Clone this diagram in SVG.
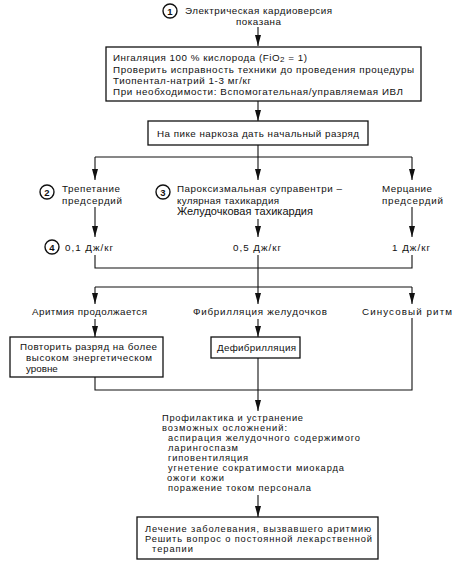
<svg xmlns="http://www.w3.org/2000/svg" width="459" height="564" viewBox="0 0 459 564">
<style>
text{font-family:"Liberation Sans",Arial,sans-serif;font-size:9.8px;fill:#111}
.s{font-size:9.3px}
.b{fill:#fff;stroke:#111;stroke-width:1.3}
.c{fill:#fff;stroke:#111;stroke-width:1.4}
.n{font-weight:bold;font-size:9.5px;text-anchor:middle}
.l{fill:none;stroke:#111;stroke-width:1.1}
.big{font-size:11px}
</style>
<defs>
<marker id="d" markerUnits="userSpaceOnUse" markerWidth="12" markerHeight="6" refX="11" refY="3" orient="auto" viewBox="0 0 12 6">
<path d="M0,0 L11,3 L0,6 Z" fill="#111"/>
</marker>
</defs>
<rect width="459" height="564" fill="#fff"/>
<g id="connectors">
<path class="l" d="M258,27 V46" marker-end="url(#d)"/>
<path class="l" d="M258,101 V121" marker-end="url(#d)"/>
<path class="l" d="M258,145 V157 M95,157 H412"/>
<path class="l" d="M95,157 V180" marker-end="url(#d)"/>
<path class="l" d="M258,157 V180" marker-end="url(#d)"/>
<path class="l" d="M412,157 V180" marker-end="url(#d)"/>
<path class="l" d="M95,207 V237" marker-end="url(#d)"/>
<path class="l" d="M258,219 V237" marker-end="url(#d)"/>
<path class="l" d="M412,207 V237" marker-end="url(#d)"/>
<path class="l" d="M95,255 V268 H412 V255 M258,255 V287 M95,287 H412"/>
<path class="l" d="M95,287 V304" marker-end="url(#d)"/>
<path class="l" d="M258,287 V304" marker-end="url(#d)"/>
<path class="l" d="M412,287 V304" marker-end="url(#d)"/>
<path class="l" d="M95,319 V337" marker-end="url(#d)"/>
<path class="l" d="M258,319 V337" marker-end="url(#d)"/>
<path class="l" d="M95,377 V390 H412 V318"/>
<path class="l" d="M258,358 V411" marker-end="url(#d)"/>
<path class="l" d="M258,495 V517" marker-end="url(#d)"/>
</g>
<g id="n1">
<circle class="c" cx="170" cy="11" r="7"/>
<text class="n" x="170" y="14.5">1</text>
<text x="185" y="14" textLength="147" lengthAdjust="spacing">Электрическая кардиоверсия</text>
<text x="236" y="25" textLength="45" lengthAdjust="spacing">показана</text>
</g>
<g id="n2">
<rect class="b" x="106" y="47" width="315" height="54"/>
<text x="113" y="60.5" textLength="194" lengthAdjust="spacing">Ингаляция 100 % кислорода (FiO<tspan dy="1.8" font-size="8">2</tspan><tspan dy="-1.8"> = 1)</tspan></text>
<text x="113" y="73" textLength="301" lengthAdjust="spacing">Проверить исправность техники до проведения процедуры</text>
<text x="113" y="84" textLength="138" lengthAdjust="spacing">Тиопентал-натрий 1-3 мг/кг</text>
<text x="113" y="95" textLength="290" lengthAdjust="spacing">При необходимости: Вспомогательная/управляемая ИВЛ</text>
</g>
<g id="n3">
<rect class="b" x="148" y="121" width="220" height="24"/>
<text x="157" y="137" textLength="202" lengthAdjust="spacing">На пике наркоза дать начальный разряд</text>
</g>
<g id="n4">
<circle class="c" cx="47" cy="192" r="7"/>
<text class="n" x="47" y="195.5">2</text>
<text x="62" y="192" textLength="58" lengthAdjust="spacing">Трепетание</text>
<text x="62" y="204" textLength="60" lengthAdjust="spacing">предсердий</text>
</g>
<g id="n5">
<circle class="c" cx="163" cy="192" r="7"/>
<text class="n" x="163" y="195.5">3</text>
<text x="177" y="192" textLength="165" lengthAdjust="spacing">Пароксизмальная суправентри –</text>
<text x="177" y="203.5" textLength="102" lengthAdjust="spacing">кулярная тахикардия</text>
<text class="big" x="177" y="215" textLength="136" lengthAdjust="spacing">Желудочковая тахикардия</text>
</g>
<g id="n6">
<text x="382" y="192" textLength="50" lengthAdjust="spacing">Мерцание</text>
<text x="382" y="204" textLength="61" lengthAdjust="spacing">предсердий</text>
</g>
<g id="n7">
<circle class="c" cx="52" cy="247" r="7"/>
<text class="n" x="52" y="250.5">4</text>
<text x="65" y="251" textLength="48" lengthAdjust="spacing">0,1 Дж/кг</text>
</g>
<g id="n8"><text x="233" y="251" textLength="48" lengthAdjust="spacing">0,5 Дж/кг</text></g>
<g id="n9"><text x="392" y="251" textLength="38" lengthAdjust="spacing">1 Дж/кг</text></g>
<g id="n10"><text x="32" y="315" textLength="115" lengthAdjust="spacing">Аритмия продолжается</text></g>
<g id="n11"><text x="193" y="315" textLength="134" lengthAdjust="spacing">Фибрилляция желудочков</text></g>
<g id="n12"><text x="362" y="315" textLength="90" lengthAdjust="spacing">Синусовый ритм</text></g>
<g id="n13">
<rect class="b" x="10" y="337" width="153" height="40"/>
<text x="20" y="350" textLength="137" lengthAdjust="spacing">Повторить разряд на более</text>
<text x="26" y="361" textLength="126" lengthAdjust="spacing">высоком энергетическом</text>
<text x="26" y="372">уровне</text>
</g>
<g id="n14">
<rect class="b" x="211" y="337" width="89" height="21"/>
<text x="217" y="351" textLength="79" lengthAdjust="spacing">Дефибрилляция</text>
</g>
<g id="n15">
<text class="s" x="162" y="421" textLength="141" lengthAdjust="spacing">Профилактика и устранение</text>
<text class="s" x="162" y="431" textLength="125" lengthAdjust="spacing">возможных осложнений:</text>
<text class="s" x="168" y="440.5" textLength="192" lengthAdjust="spacing">аспирация желудочного содержимого</text>
<text class="s" x="168" y="450.5" textLength="70" lengthAdjust="spacing">ларингоспазм</text>
<text class="s" x="168" y="460.5" textLength="80" lengthAdjust="spacing">гиповентиляция</text>
<text class="s" x="168" y="471" textLength="176" lengthAdjust="spacing">угнетение сократимости миокарда</text>
<text class="s" x="167" y="481" textLength="57" lengthAdjust="spacing">ожоги кожи</text>
<text class="s" x="168" y="491" textLength="143" lengthAdjust="spacing">поражение током персонала</text>
</g>
<g id="n16">
<rect class="b" x="137" y="517" width="241" height="42"/>
<text class="s" x="145" y="531.5" textLength="226" lengthAdjust="spacing">Лечение заболевания, вызвавшего аритмию</text>
<text class="s" x="145" y="541.5" textLength="227" lengthAdjust="spacing">Решить вопрос о  постоянной лекарственной</text>
<text class="s" x="152" y="551.5" textLength="41" lengthAdjust="spacing">терапии</text>
</g>
</svg>
